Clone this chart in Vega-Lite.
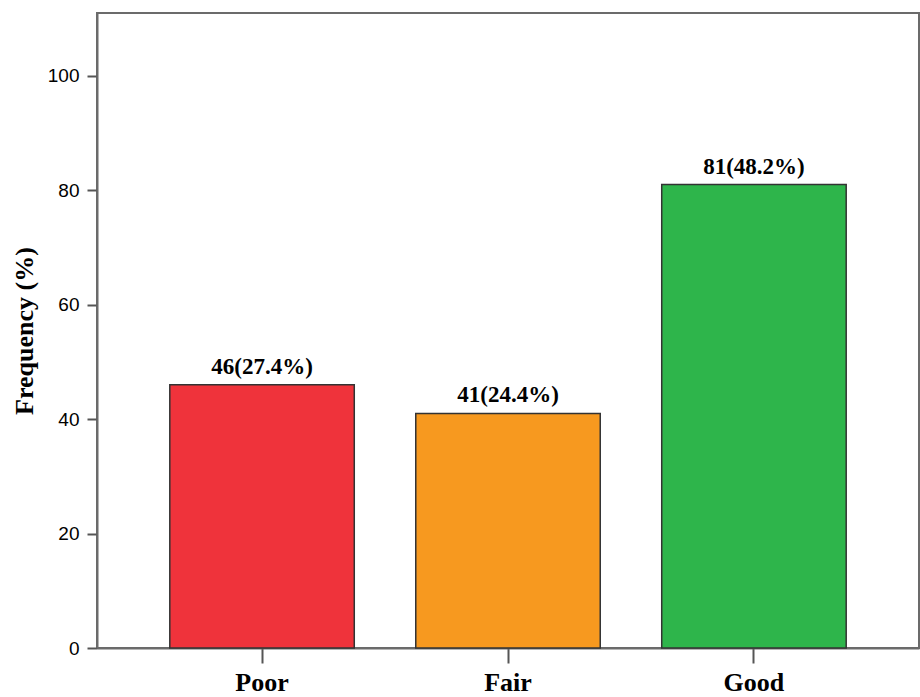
{
  "$schema": "https://vega.github.io/schema/vega-lite/v6.json",
  "width": 822,
  "height": 635,
  "autosize": {"type": "none"},
  "padding": {"left": 97, "top": 13, "right": 1, "bottom": 49},
  "background": "white",
  "config": {
    "view": {"stroke": "#6b6b6b", "strokeWidth": 2},
    "axis": {"grid": false, "domainColor": "#6b6b6b", "domainWidth": 2, "tickColor": "#555555", "tickWidth": 2}
  },
  "data": {
    "values": [
      {"rating": "Poor", "count": 46, "label": "46(27.4%)"},
      {"rating": "Fair", "count": 41, "label": "41(24.4%)"},
      {"rating": "Good", "count": 81, "label": "81(48.2%)"}
    ]
  },
  "encoding": {
    "x": {
      "field": "rating",
      "type": "nominal",
      "sort": ["Poor", "Fair", "Good"],
      "scale": {"paddingInner": 0.25, "paddingOuter": 0.296},
      "axis": {
        "title": null,
        "labelAngle": 0,
        "labelFont": "Liberation Serif",
        "labelFontWeight": "bold",
        "labelFontSize": 26,
        "labelColor": "#000000",
        "tickSize": 15,
        "labelPadding": 6
      }
    },
    "y": {
      "field": "count",
      "type": "quantitative",
      "scale": {"domain": [0, 111], "nice": false},
      "axis": {
        "title": "Frequency (%)",
        "values": [0, 20, 40, 60, 80, 100],
        "labelFont": "Liberation Sans",
        "labelFontSize": 19,
        "labelFontWeight": 500,
        "labelColor": "#000000",
        "tickSize": 10,
        "labelPadding": 8,
        "titleFont": "Liberation Serif",
        "titleFontWeight": "bold",
        "titleFontSize": 26,
        "titleColor": "#000000",
        "titleBaseline": "alphabetic",
        "titleX": -65,
        "titleY": 317.5
      }
    }
  },
  "layer": [
    {
      "mark": {"type": "bar", "stroke": "#333333", "strokeWidth": 1.5},
      "encoding": {
        "color": {
          "field": "rating",
          "type": "nominal",
          "scale": {"domain": ["Poor", "Fair", "Good"], "range": ["#EF333B", "#F7991F", "#2EB54B"]},
          "legend": null
        }
      }
    },
    {
      "mark": {
        "type": "text",
        "baseline": "alphabetic",
        "dy": -11,
        "font": "Liberation Serif",
        "fontWeight": "bold",
        "fontSize": 23,
        "color": "#000000"
      },
      "encoding": {"text": {"field": "label"}}
    }
  ]
}
